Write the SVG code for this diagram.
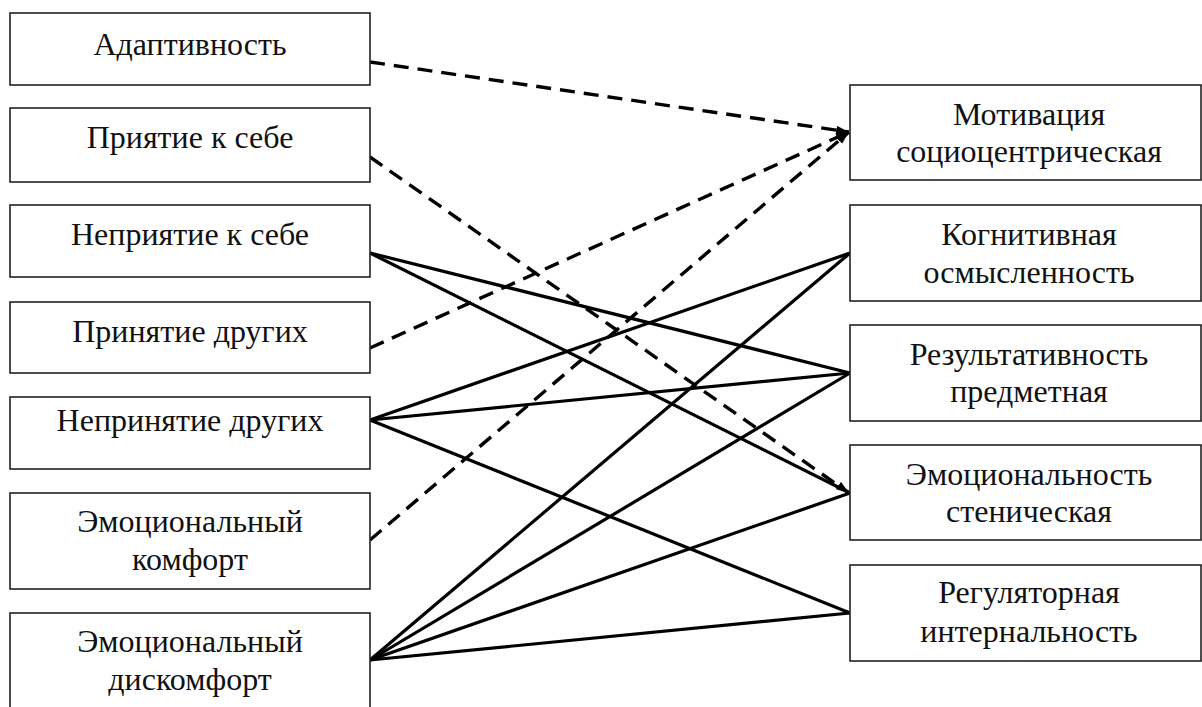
<svg xmlns="http://www.w3.org/2000/svg" width="1202" height="707" viewBox="0 0 1202 707">
<style>
.box{fill:#fff;stroke:#222;stroke-width:1.6}
.t{font-family:"Liberation Serif","Times New Roman",serif;font-size:32px;fill:#111;text-anchor:middle}
.s{fill:none;stroke:#000;stroke-width:3.2}
.d{fill:none;stroke:#000;stroke-width:3.4;stroke-dasharray:15 9}
</style>
<defs>
<marker id="ah" markerUnits="userSpaceOnUse" markerWidth="14" markerHeight="10" refX="13" refY="5" orient="auto">
<path d="M0,0.5 L13,5 L0,9.5 Z" fill="#000"/>
</marker>
</defs>
<rect width="1202" height="707" fill="#fff"/>
<g id="connectors">
<line class="d" x1="370" y1="62" x2="849" y2="132" marker-end="url(#ah)"/>
<line class="d" x1="370" y1="157" x2="849" y2="493" marker-end="url(#ah)"/>
<line class="d" x1="370" y1="348" x2="849" y2="132" marker-end="url(#ah)"/>
<line class="d" x1="370" y1="540" x2="849" y2="132" marker-end="url(#ah)"/>
<line class="s" x1="370" y1="253" x2="850" y2="373"/>
<line class="s" x1="370" y1="253" x2="850" y2="493"/>
<line class="s" x1="370" y1="420" x2="850" y2="253"/>
<line class="s" x1="370" y1="420" x2="850" y2="373"/>
<line class="s" x1="370" y1="420" x2="850" y2="613"/>
<line class="s" x1="370" y1="660" x2="850" y2="253"/>
<line class="s" x1="370" y1="660" x2="850" y2="373"/>
<line class="s" x1="370" y1="660" x2="850" y2="493"/>
<line class="s" x1="370" y1="660" x2="850" y2="613"/>
</g>
<g id="n1"><rect class="box" x="10" y="13" width="360" height="72"/><text class="t" x="190" y="55">Адаптивность</text></g>
<g id="n2"><rect class="box" x="10" y="108" width="360" height="74"/><text class="t" x="190" y="148">Приятие к себе</text></g>
<g id="n3"><rect class="box" x="10" y="205" width="360" height="72"/><text class="t" x="190" y="245">Неприятие к себе</text></g>
<g id="n4"><rect class="box" x="10" y="302" width="360" height="71"/><text class="t" x="190" y="342">Принятие других</text></g>
<g id="n5"><rect class="box" x="10" y="397" width="360" height="72"/><text class="t" x="190" y="431">Непринятие других</text></g>
<g id="n6"><rect class="box" x="10" y="493" width="360" height="96"/><text class="t" x="190" y="532">Эмоциональный</text><text class="t" x="190" y="570">комфорт</text></g>
<g id="n7"><rect class="box" x="10" y="613" width="360" height="110"/><text class="t" x="190" y="652">Эмоциональный</text><text class="t" x="190" y="690">дискомфорт</text></g>
<g id="m1"><rect class="box" x="850" y="85" width="351" height="95"/><text class="t" x="1029" y="125">Мотивация</text><text class="t" x="1029" y="162">социоцентрическая</text></g>
<g id="m2"><rect class="box" x="850" y="205" width="351" height="96"/><text class="t" x="1029" y="245">Когнитивная</text><text class="t" x="1029" y="283">осмысленность</text></g>
<g id="m3"><rect class="box" x="850" y="325" width="351" height="96"/><text class="t" x="1029" y="365">Результативность</text><text class="t" x="1029" y="402">предметная</text></g>
<g id="m4"><rect class="box" x="850" y="445" width="351" height="95"/><text class="t" x="1029" y="485">Эмоциональность</text><text class="t" x="1029" y="522">стеническая</text></g>
<g id="m5"><rect class="box" x="850" y="565" width="351" height="96"/><text class="t" x="1029" y="603">Регуляторная</text><text class="t" x="1029" y="642">интернальность</text></g>
</svg>
